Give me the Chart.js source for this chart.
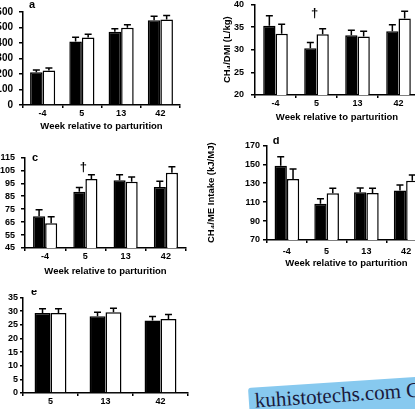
<!DOCTYPE html>
<html><head><meta charset="utf-8">
<script src="https://cdn.jsdelivr.net/npm/chart.js@4.4.1/dist/chart.umd.min.js"></script>
<style>
html,body{margin:0;padding:0;background:#fff;width:415px;height:409px;overflow:hidden;position:relative;}
canvas{position:absolute;}
#wm{position:absolute;left:248px;top:388px;width:200px;height:40px;background:#87c9ef;transform:rotate(-3.8deg);transform-origin:0 0;border-radius:3px;font-family:"Liberation Serif","DejaVu Serif",serif;font-size:21px;color:#1a1a3c;line-height:1;padding:3px 0 0 6px;box-sizing:border-box;white-space:nowrap;}
</style></head><body>
<canvas id="ca" width="210" height="132" style="left:-20px;top:0px"></canvas>
<canvas id="cb" width="207" height="131" style="left:222px;top:-8px"></canvas>
<canvas id="cc" width="216" height="131" style="left:-20px;top:146px"></canvas>
<canvas id="cd" width="230" height="132" style="left:206px;top:137px"></canvas>
<canvas id="ce" width="203" height="130" style="left:-5px;top:290px"></canvas>
<div id="wm">kuhistotechs.com C</div>
<script>
// ---- data ----
const weeks = ['-4', '5', '13', '42'];
const weeksMilk = ['5', '13', '42'];

// panel a
const aBlack = [212, 410, 473, 547];
const aBlackSE = [14, 27, 19, 26];
const aWhite = [222, 435, 498, 551];
const aWhiteSE = [16, 22, 20, 27];
const aYRange = [0, 600, 100];

// panel b  CH4/DMI (L/kg)
const bBlack = [35.3, 30.3, 33.2, 34.1];
const bBlackSE = [2.2, 1.3, 1.1, 1.4];
const bWhite = [33.5, 33.4, 32.9, 36.9];
const bWhiteSE = [2.1, 1.2, 1.2, 1.6];
const bYRange = [20, 40, 5];
const bDaggerAt = ['5'];
const bDaggerY = [37.9];

// panel c
const cBlack = [69.6, 88.5, 97.3, 92.2];
const cBlackSE = [4.9, 3.2, 4.2, 4.4];
const cWhite = [64.2, 98.3, 96.1, 103.2];
const cWhiteSE = [4.9, 3.2, 3.7, 4.5];
const cYRange = [45, 115, 10];
const cDaggerAt = ['5'];
const cDaggerY = [107.6];

// panel d  CH4/ME intake (kJ/MJ)
const dBlack = [148.4, 108.3, 120.5, 122.3];
const dBlackSE = [9.6, 5.2, 4.5, 5.9];
const dWhite = [134.5, 119.5, 119.8, 132.7];
const dWhiteSE = [10.5, 5.2, 4.9, 5.9];
const dYRange = [70, 170, 20];

// panel e
const eBlack = [29.3, 28.1, 26.5];
const eBlackSE = [1.5, 1.5, 1.5];
const eWhite = [29.3, 29.6, 27.1];
const eWhiteSE = [1.5, 1.4, 1.6];
const eYRange = [0, 35, 5];

const FONT = '"Liberation Sans", Arial, sans-serif';

const errorBars = {
  id: 'errorBars',
  afterDatasetsDraw(chart) {
    const ctx = chart.ctx, ys = chart.scales.y;
    ctx.save();
    ctx.strokeStyle = '#000'; ctx.lineWidth = 1.5;
    chart.data.datasets.forEach((ds, i) => {
      const meta = chart.getDatasetMeta(i);
      meta.data.forEach((bar, j) => {
        const top = ys.getPixelForValue(ds.data[j] + ds.errors[j]);
        ctx.beginPath();
        ctx.moveTo(bar.x, bar.y); ctx.lineTo(bar.x, top);
        ctx.moveTo(bar.x - 3.5, top); ctx.lineTo(bar.x + 3.5, top);
        ctx.stroke();
      });
    });
    ctx.restore();
  }
};

const annot = {
  id: 'annot',
  afterDraw(chart, args, opts) {
    const ctx = chart.ctx, a = chart.chartArea;
    if (opts.letter) {
      ctx.save();
      ctx.fillStyle = '#000'; ctx.textAlign = 'center'; ctx.textBaseline = 'middle';
      ctx.font = 'bold 11px ' + FONT;
      ctx.fillText(opts.letter, a.left + opts.dx, a.top + opts.dy);
      ctx.restore();
    }
    if (opts.daggerAt) {
      ctx.save();
      ctx.fillStyle = '#000'; ctx.textAlign = 'center'; ctx.textBaseline = 'middle';
      ctx.font = 'bold 13px ' + FONT;
      opts.daggerAt.forEach((lab, k) => {
        const x = chart.scales.x.getPixelForValue(chart.data.labels.indexOf(lab));
        const y = chart.scales.y.getPixelForValue(opts.daggerY[k]);
        ctx.fillText('\u2020', x - 2, y);
      });
      ctx.restore();
    }
  }
};

function makePanel(id, p) {
  new Chart(document.getElementById(id), {
    type: 'bar',
    data: {
      labels: p.labels,
      datasets: [
        { data: p.black, errors: p.blackSE, backgroundColor: '#000', borderColor: '#000', borderWidth: 1.5,
          categoryPercentage: p.cat, barPercentage: 1 },
        { data: p.white, errors: p.whiteSE, backgroundColor: '#fff', borderColor: '#000', borderWidth: 1.5,
          categoryPercentage: p.cat, barPercentage: 1 }
      ]
    },
    options: {
      responsive: false, animation: false, devicePixelRatio: 1,
      layout: { padding: { left: 0, top: 7, right: 10, bottom: 0 } },
      plugins: {
        legend: { display: false }, tooltip: { enabled: false },
        annot: { letter: p.letter, dx: p.ldx, dy: p.ldy, daggerAt: p.daggerAt, daggerY: p.daggerY }
      },
      scales: {
        x: {
          grid: { display: true, drawOnChartArea: false, drawTicks: true, tickLength: 3, color: '#000', lineWidth: 1.5 },
          border: { color: '#000', width: 1.5 },
          ticks: { color: '#000', padding: p.xPad, autoSkip: false, font: { family: FONT, size: 9, weight: 'bold' }, maxRotation: 0 },
          title: { display: !!p.xTitle, text: p.xTitle || '', color: '#000', padding: 0,
                   font: { family: FONT, size: 9.5, weight: 'bold' } },
          afterFit: s => { s.height = p.xH; }
        },
        y: {
          min: p.range[0], max: p.range[1],
          grid: { display: true, drawOnChartArea: false, drawTicks: true, tickLength: p.yTl, color: '#000', lineWidth: 1.5 },
          border: { color: '#000', width: 1.5 },
          ticks: { stepSize: p.range[2], autoSkip: false, color: '#000', padding: p.yPad,
                   font: { family: FONT, size: p.yFs || 9, weight: 'bold' } },
          title: { display: !!p.yTitle, text: p.yTitle || '', color: '#000', padding: 0,
                   font: { family: FONT, size: 9.5, weight: 'bold' } },
          afterFit: s => { s.width = p.yW; }
        }
      }
    },
    plugins: [errorBars, annot]
  });
}

const XT = 'Week relative to parturition';
makePanel('ca', { labels: weeks, black: aBlack, blackSE: aBlackSE, white: aWhite, whiteSE: aWhiteSE,
  range: aYRange, cat: 0.64, xH: 27, yW: 43, yTl: 4, yPad: 6, yFs: 10, xPad: 0, xTitle: XT,
  letter: 'a', ldx: 9, ldy: -7 });
makePanel('cb', { labels: weeks, black: bBlack, blackSE: bBlackSE, white: bWhite, whiteSE: bWhiteSE,
  range: bYRange, cat: 0.6, xH: 28, yW: 33, yTl: 4, yPad: 7, xPad: 0, xTitle: XT,
  yTitle: 'CH\u2084/DMI (L/kg)', daggerAt: bDaggerAt, daggerY: bDaggerY });
makePanel('cc', { labels: weeks, black: cBlack, blackSE: cBlackSE, white: cWhite, whiteSE: cWhiteSE,
  range: cYRange, cat: 0.6, xH: 29, yW: 45, yTl: 4, yPad: 6, xPad: 0.5, xTitle: XT,
  letter: 'c', ldx: 10, ldy: 0.5, daggerAt: cDaggerAt, daggerY: cDaggerY });
makePanel('cd', { labels: weeks, black: dBlack, blackSE: dBlackSE, white: dWhite, whiteSE: dWhiteSE,
  range: dYRange, cat: 0.62, xH: 29, yW: 61, yTl: 4, yPad: 3, xPad: 3, xTitle: XT,
  yTitle: 'CH\u2084/ME Intake (kJ/MJ)', letter: 'd', ldx: 9, ldy: -4.5 });
makePanel('ce', { labels: weeksMilk, black: eBlack, blackSE: eBlackSE, white: eWhite, whiteSE: eWhiteSE,
  range: eYRange, cat: 0.58, xH: 27, yW: 28, yTl: 3, yPad: 2, xPad: 0,
  letter: 'e', ldx: 11, ldy: -5 });
</script>
</body></html>
